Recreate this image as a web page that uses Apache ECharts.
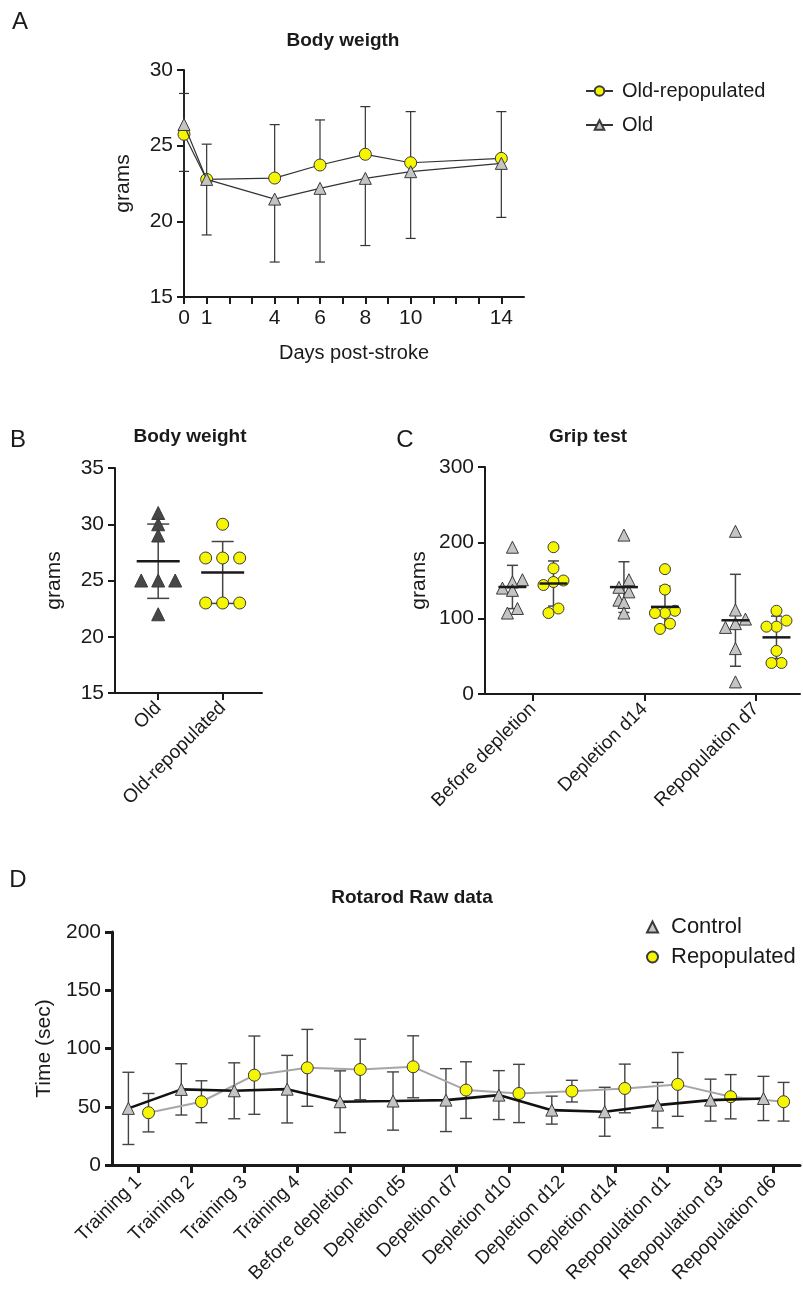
<!DOCTYPE html>
<html>
<head>
<meta charset="utf-8">
<title>Body weight, grip test and rotarod</title>
<script src="https://cdn.jsdelivr.net/npm/echarts@6/dist/echarts.min.js"></script>
<style>
  html, body { margin: 0; padding: 0; background: #fff; }
  #main { width: 803px; height: 1295px; }
</style>
</head>
<body>
<div id="main"></div>
<script>
// ---------- A: body weight after stroke (mean, one-sided SD) ----------
const daysA = [0, 1, 4, 6, 8, 10, 14];
const dayTicksA = [0, 1, 2, 3, 4, 5, 6, 7, 8, 9, 10, 11, 12, 13, 14];
const dayLabelsA = [0, 1, 4, 6, 8, 10, 14];
const repopMeanA = [25.75, 22.77, 22.86, 23.72, 24.43, 23.87, 24.16];
const repopErrA = [2.7, 2.33, 3.53, 2.98, 3.15, 3.38, 3.09];
const oldMeanA = [26.4, 22.77, 21.47, 22.18, 22.84, 23.28, 23.83];
const oldErrA = [3.1, 3.67, 4.16, 4.87, 4.44, 4.41, 3.57];

// ---------- B: body weight, individual animals ----------
const groupsB = ['Old', 'Old-repopulated'];
const oldB = [31, 30, 29, 25, 25, 25, 22];
const repopB = [30, 27, 27, 27, 23, 23, 23];

// ---------- C: grip test, individual animals ----------
const groupsC = ['Before depletion', 'Depletion d14', 'Repopulation d7'];
const ctrlC = [
  [194, 151, 148, 140, 137, 113, 107],
  [210, 151, 141, 135, 124, 121, 107],
  [215, 111, 99, 93, 88, 60, 16]
];
const repopC = [
  [194, 166, 150, 148, 144, 113, 107],
  [165, 138, 110, 107, 107, 93, 86],
  [110, 97, 89, 89, 57, 41, 41]
];

// ---------- D: rotarod (mean, SD) ----------
const sessionsD = ['Training 1', 'Training 2', 'Training 3', 'Training 4', 'Before depletion',
  'Depletion d5', 'Depeltion d7', 'Depletion d10', 'Depletion d12', 'Depletion d14',
  'Repopulation d1', 'Repopulation d3', 'Repopulation d6'];
const ctrlMeanD = [48.6, 64.9, 63.7, 65.1, 54.3, 54.9, 55.7, 60.0, 47.1, 45.7, 51.4, 55.7, 57.1];
const ctrlSdD = [31, 22, 24, 29, 26.5, 25, 27, 21, 12, 21, 19.5, 18, 19];
const repopMeanD = [44.9, 54.3, 77.1, 83.4, 82.0, 84.3, 64.3, 61.4, 63.4, 65.7, 69.2, 58.6, 54.3];
const repopSdD = [16.5, 18, 33.6, 33, 26, 26.6, 24.3, 25, 9.3, 20.9, 27.4, 19, 16.6];

const FONT = '"Liberation Sans", Arial, Helvetica, sans-serif';
const TXT = '#1a1a1a';
const YELLOW = '#f6f600';
const GREY = '#c4c4c4';
const EDGE = '#3a3a3a';

const gA = { left: 184, top: 70, width: 340, height: 227 };
const gB = { left: 115, top: 468, width: 147, height: 225 };
const gC = { left: 485, top: 467, width: 315, height: 227 };
const gD = { left: 112, top: 932, width: 688, height: 233 };

const dodgeC = 0.184;
const dodgeD = 0.19;

function mean(a) { return a.reduce((s, v) => s + v, 0) / a.length; }
function sd(a) {
  const m = mean(a);
  return Math.sqrt(a.reduce((s, v) => s + (v - m) * (v - m), 0) / (a.length - 1));
}

// spread points that sit at nearly the same height side by side
function swarm(values, pxPerUnit, binPx, step) {
  const idx = values.map((v, i) => i).sort((a, b) => values[b] - values[a]);
  const off = values.map(() => 0);
  let bin = [];
  const flush = () => {
    bin.slice().reverse().forEach((k, j) => { off[k] = (j - (bin.length - 1) / 2) * step; });
    bin = [];
  };
  idx.forEach(k => {
    if (bin.length && (values[bin[0]] - values[k]) * pxPerUnit > binPx) flush();
    bin.push(k);
  });
  flush();
  return off;
}

function xAxisOf(grid, lw, extra) {
  return Object.assign({
    type: 'value', gridIndex: grid,
    axisLine: { show: true, onZero: false, lineStyle: { color: TXT, width: lw } },
    axisTick: { show: true, length: 7, lineStyle: { color: TXT, width: lw } },
    splitLine: { show: false },
    nameTextStyle: { color: TXT, fontFamily: FONT, fontSize: 20 }
  }, extra);
}
function yAxisOf(grid, lw, extra) {
  return Object.assign({
    type: 'value', gridIndex: grid,
    axisLine: { show: true, onZero: false, lineStyle: { color: TXT, width: lw } },
    axisTick: { show: true, length: 7, lineStyle: { color: TXT, width: lw } },
    axisLabel: { color: TXT, fontFamily: FONT, fontSize: 21, margin: 11 },
    splitLine: { show: false },
    nameLocation: 'middle',
    nameTextStyle: { color: TXT, fontFamily: FONT, fontSize: 21 }
  }, extra);
}

function errorBars(axis, rows, opt) {
  // rows: [x, low, high]
  return {
    type: 'custom', xAxisIndex: axis, yAxisIndex: axis, z: 1, silent: true,
    data: rows,
    renderItem: function (params, api) {
      const lo = api.coord([api.value(0), api.value(1)]);
      const hi = api.coord([api.value(0), api.value(2)]);
      const w = opt.cap;
      const st = { stroke: opt.color, lineWidth: opt.width };
      const kids = [{ type: 'line', shape: { x1: lo[0], y1: lo[1], x2: hi[0], y2: hi[1] }, style: st }];
      if (opt.caps !== 'bottom') kids.push({ type: 'line', shape: { x1: hi[0] - w, y1: hi[1], x2: hi[0] + w, y2: hi[1] }, style: st });
      if (opt.caps !== 'top') kids.push({ type: 'line', shape: { x1: lo[0] - w, y1: lo[1], x2: lo[0] + w, y2: lo[1] }, style: st });
      return { type: 'group', children: kids };
    }
  };
}

function meanLines(axis, rows, half, width) {
  return {
    type: 'custom', xAxisIndex: axis, yAxisIndex: axis, z: 4, silent: true,
    data: rows,
    renderItem: function (params, api) {
      const p = api.coord([api.value(0), api.value(1)]);
      return { type: 'line', shape: { x1: p[0] - half, y1: p[1], x2: p[0] + half, y2: p[1] },
        style: { stroke: '#1a1a1a', lineWidth: width } };
    }
  };
}

function dots(axis, x, values, offsets, symbol, size, fill) {
  return {
    type: 'scatter', xAxisIndex: axis, yAxisIndex: axis, z: 3, silent: true,
    symbol: symbol, symbolSize: size,
    itemStyle: { color: fill, borderColor: EDGE, borderWidth: 1, opacity: 1 },
    data: values.map((v, i) => ({ value: [x, v], symbolOffset: [offsets[i], 0] }))
  };
}

// ---- panel B series ----
const pxB = gB.height / 20;
const seriesB = [];
[[oldB, 1, 'triangle', '#474747'], [repopB, 2, 'circle', YELLOW]].forEach(([vals, x, sym, fill]) => {
  const m = mean(vals), s = sd(vals);
  seriesB.push(errorBars(1, [[x, m - s, m + s]], { cap: 11, color: '#444', width: 1.5, caps: 'both' }));
  seriesB.push(meanLines(1, [[x, m]], 21.5, 2.5));
  seriesB.push(dots(1, x, vals, swarm(vals, pxB, 8, 17), sym, sym === 'triangle' ? 13 : 12, fill));
});

// ---- panel C series ----
const pxC = gC.height / 300;
const seriesC = [];
groupsC.forEach((g, i) => {
  [[ctrlC[i], i + 1 - dodgeC, 'triangle', GREY], [repopC[i], i + 1 + dodgeC, 'circle', YELLOW]].forEach(([vals, x, sym, fill]) => {
    const m = mean(vals), s = sd(vals);
    seriesC.push(errorBars(2, [[x, m - s, m + s]], { cap: 5.5, color: '#444', width: 1.5, caps: 'both' }));
    seriesC.push(meanLines(2, [[x, m]], 14, 2.5));
    seriesC.push(dots(2, x, vals, swarm(vals, pxC, 9, 10), sym, sym === 'triangle' ? 12 : 11, fill));
  });
});

const option = {
  animation: false,
  backgroundColor: '#fff',
  textStyle: { fontFamily: FONT, color: TXT },
  grid: [
    Object.assign({}, gA),
    Object.assign({}, gB),
    Object.assign({}, gC),
    Object.assign({}, gD)
  ],
  xAxis: [
    xAxisOf(0, 2, {
      min: 0, max: 15,
      axisTick: { show: true, length: 7, customValues: dayTicksA, lineStyle: { color: TXT, width: 2 } },
      axisLabel: { customValues: dayLabelsA, color: TXT, fontFamily: FONT, fontSize: 21, margin: 11 },
      name: 'Days post-stroke', nameLocation: 'middle', nameGap: 46
    }),
    xAxisOf(1, 2, {
      min: 0.33, max: 2.61,
      axisTick: { show: true, length: 7, customValues: [1, 2], lineStyle: { color: TXT, width: 2 } },
      axisLabel: { customValues: [1, 2], rotate: 45, margin: 12, color: TXT, fontFamily: FONT, fontSize: 19,
        formatter: v => groupsB[Math.round(v) - 1] || '' }
    }),
    xAxisOf(2, 2, {
      min: 0.57, max: 3.395,
      axisTick: { show: true, length: 7, customValues: [1, 2, 3], lineStyle: { color: TXT, width: 2 } },
      axisLabel: { customValues: [1, 2, 3], rotate: 45, margin: 12, color: TXT, fontFamily: FONT, fontSize: 19,
        formatter: v => groupsC[Math.round(v) - 1] || '' }
    }),
    xAxisOf(3, 3, {
      min: -0.5, max: 12.5,
      axisTick: { show: true, length: 8, customValues: sessionsD.map((s, i) => i), lineStyle: { color: TXT, width: 3 } },
      axisLabel: { customValues: sessionsD.map((s, i) => i), rotate: 45, margin: 14, color: TXT, fontFamily: FONT, fontSize: 19,
        formatter: v => sessionsD[Math.round(v)] || '' }
    })
  ],
  yAxis: [
    yAxisOf(0, 2, { min: 15, max: 30, interval: 5, name: 'grams', nameGap: 50 }),
    yAxisOf(1, 2, { min: 15, max: 35, interval: 5, name: 'grams', nameGap: 50 }),
    yAxisOf(2, 2, { min: 0, max: 300, interval: 100, name: 'grams', nameGap: 55 }),
    yAxisOf(3, 3, { min: 0, max: 200, interval: 50, name: 'Time (sec)', nameGap: 56 })
  ],
  legend: [
    {
      data: ['Old-repopulated', 'Old'],
      orient: 'vertical', left: 580, top: 76, itemWidth: 27, itemHeight: 12, itemGap: 14,
      textStyle: { fontFamily: FONT, fontSize: 20, color: TXT, padding: [0, 0, 0, 4] }, selectedMode: false
    },
    {
      data: [{ name: 'Control', icon: 'triangle' }, { name: 'Repopulated', icon: 'circle' }],
      orient: 'vertical', left: 641, top: 911, itemWidth: 11, itemHeight: 11, itemGap: 8,
      lineStyle: { opacity: 0, width: 0 },
      textStyle: { fontFamily: FONT, fontSize: 22, color: TXT, padding: [0, 0, 0, 8] }, selectedMode: false
    }
  ],
  graphic: [
    { type: 'text', x: 20, y: 22, style: { text: 'A', font: '24px ' + FONT, fill: TXT, align: 'center', verticalAlign: 'middle' } },
    { type: 'text', x: 18, y: 440, style: { text: 'B', font: '24px ' + FONT, fill: TXT, align: 'center', verticalAlign: 'middle' } },
    { type: 'text', x: 405, y: 440, style: { text: 'C', font: '24px ' + FONT, fill: TXT, align: 'center', verticalAlign: 'middle' } },
    { type: 'text', x: 18, y: 880, style: { text: 'D', font: '24px ' + FONT, fill: TXT, align: 'center', verticalAlign: 'middle' } },
    { type: 'text', x: 343, y: 41, style: { text: 'Body weigth', font: 'bold 19px ' + FONT, fill: TXT, align: 'center', verticalAlign: 'middle' } },
    { type: 'text', x: 190, y: 437, style: { text: 'Body weight', font: 'bold 19px ' + FONT, fill: TXT, align: 'center', verticalAlign: 'middle' } },
    { type: 'text', x: 588, y: 437, style: { text: 'Grip test', font: 'bold 19px ' + FONT, fill: TXT, align: 'center', verticalAlign: 'middle' } },
    { type: 'text', x: 412, y: 898, style: { text: 'Rotarod Raw data', font: 'bold 19px ' + FONT, fill: TXT, align: 'center', verticalAlign: 'middle' } }
  ],
  series: [
    // A
    errorBars(0, daysA.map((d, i) => [d, repopMeanA[i], repopMeanA[i] + repopErrA[i]]), { cap: 5, color: '#333', width: 1.2, caps: 'top' }),
    errorBars(0, daysA.map((d, i) => [d, oldMeanA[i] - oldErrA[i], oldMeanA[i]]), { cap: 5, color: '#333', width: 1.2, caps: 'bottom' }),
    {
      name: 'Old-repopulated', type: 'line', xAxisIndex: 0, yAxisIndex: 0, z: 3,
      symbol: 'circle', symbolSize: 12,
      lineStyle: { color: '#333', width: 1.2 },
      itemStyle: { color: YELLOW, borderColor: EDGE, borderWidth: 1 },
      data: daysA.map((d, i) => [d, repopMeanA[i]])
    },
    {
      name: 'Old', type: 'line', xAxisIndex: 0, yAxisIndex: 0, z: 4,
      symbol: 'triangle', symbolSize: 12,
      lineStyle: { color: '#333', width: 1.2 },
      itemStyle: { color: GREY, borderColor: EDGE, borderWidth: 1 },
      data: daysA.map((d, i) => [d, oldMeanA[i]])
    },
    // B, C
    ...seriesB,
    ...seriesC,
    // D
    errorBars(3, sessionsD.map((s, i) => [i - dodgeD, ctrlMeanD[i] - ctrlSdD[i], ctrlMeanD[i] + ctrlSdD[i]]), { cap: 6, color: '#444', width: 1.4, caps: 'both' }),
    errorBars(3, sessionsD.map((s, i) => [i + dodgeD, repopMeanD[i] - repopSdD[i], repopMeanD[i] + repopSdD[i]]), { cap: 6, color: '#444', width: 1.4, caps: 'both' }),
    {
      name: 'Repopulated', type: 'line', xAxisIndex: 3, yAxisIndex: 3, z: 3,
      symbol: 'circle', symbolSize: 12,
      lineStyle: { color: '#a6a6a6', width: 2 },
      itemStyle: { color: YELLOW, borderColor: EDGE, borderWidth: 1 },
      data: sessionsD.map((s, i) => [i + dodgeD, repopMeanD[i]])
    },
    {
      name: 'Control', type: 'line', xAxisIndex: 3, yAxisIndex: 3, z: 4,
      symbol: 'triangle', symbolSize: 12,
      lineStyle: { color: '#111', width: 2.6 },
      itemStyle: { color: GREY, borderColor: EDGE, borderWidth: 1 },
      data: sessionsD.map((s, i) => [i - dodgeD, ctrlMeanD[i]])
    }
  ]
};

const chart = echarts.init(document.getElementById('main'));
chart.setOption(option);
</script>
</body>
</html>
